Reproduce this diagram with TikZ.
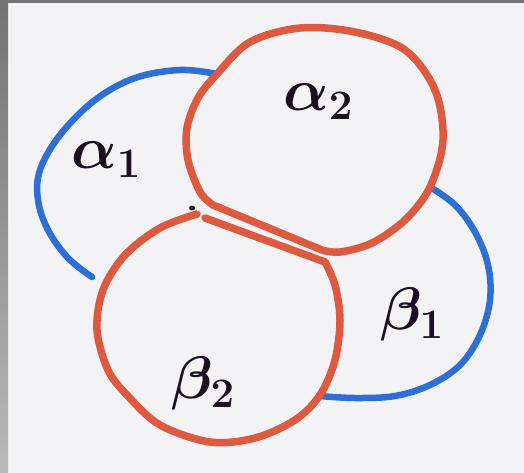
\RequirePackage{fix-cm}
\documentclass[tikz,border=0pt]{standalone}
\usetikzlibrary{calc}
\definecolor{bg}{HTML}{F3F3F5}
\definecolor{penred}{HTML}{DD5A40}
\definecolor{penblue}{HTML}{2E6FD6}
\definecolor{ink}{HTML}{1A1020}
\tikzset{
  redline/.style={draw=penred, line width=7.5pt, line cap=round, line join=round},
  blueline/.style={draw=penblue, line width=6.5pt, line cap=round, line join=round},
  lbl/.style={text=ink, inner sep=0pt, font=\fontsize{60}{60}\selectfont\boldmath},
}
\begin{document}
\begin{tikzpicture}[x=1pt,y=-1pt]
\useasboundingbox (0,0) rectangle (524,473);
\fill[bg] (0,0) rectangle (524,473);
\shade[top color=gray!90!black, bottom color=gray!55] (0,0) rectangle (8,473);
\fill[gray!90!black] (0,0) rectangle (524,3);

% blue arcs
\draw[blueline] plot[smooth, tension=0.6] coordinates {(217,74) (180,70) (135,78) (95,100) (60,135) (40,170) (38,200) (48,230) (68,258) (92,277)};
\draw[blueline] plot[smooth, tension=0.6] coordinates {(430,187) (455,205) (475,232) (488,265) (490,300) (480,335) (460,365) (430,385) (395,396) (355,398) (320,396)};

% top red circle (alpha_2)
\draw[redline] plot[smooth, tension=0.55] coordinates {(213,205) (200,192) (188,160) (187,128) (198,98) (217,74) (250,42) (300,28) (355,32) (405,50) (435,90) (443,140) (430,187) (405,220) (372,243) (340,252) (322,250)} -- cycle;

% bottom red circle (beta_2)
\draw[redline] plot[smooth, tension=0.55] coordinates {(197,214) (160,228) (125,255) (103,290) (97,330) (108,370) (127,395) (160,425) (210,442) (255,438) (295,420) (320,395) (335,360) (340,320) (335,285) (325,262)} -- (205,218);

% small pen dot
\fill[ink] (192,208) ellipse (3pt and 2.5pt);

% labels
\node[lbl] (a1) at (106,160) {$\alpha_1$};
\node[lbl] (a2) at (318,102) {$\alpha_2$};
\node[lbl] (b1) at (412,314) {$\beta_1$};
\node[lbl] (b2) at (203,383) {$\beta_2$};
\end{tikzpicture}
\end{document}
